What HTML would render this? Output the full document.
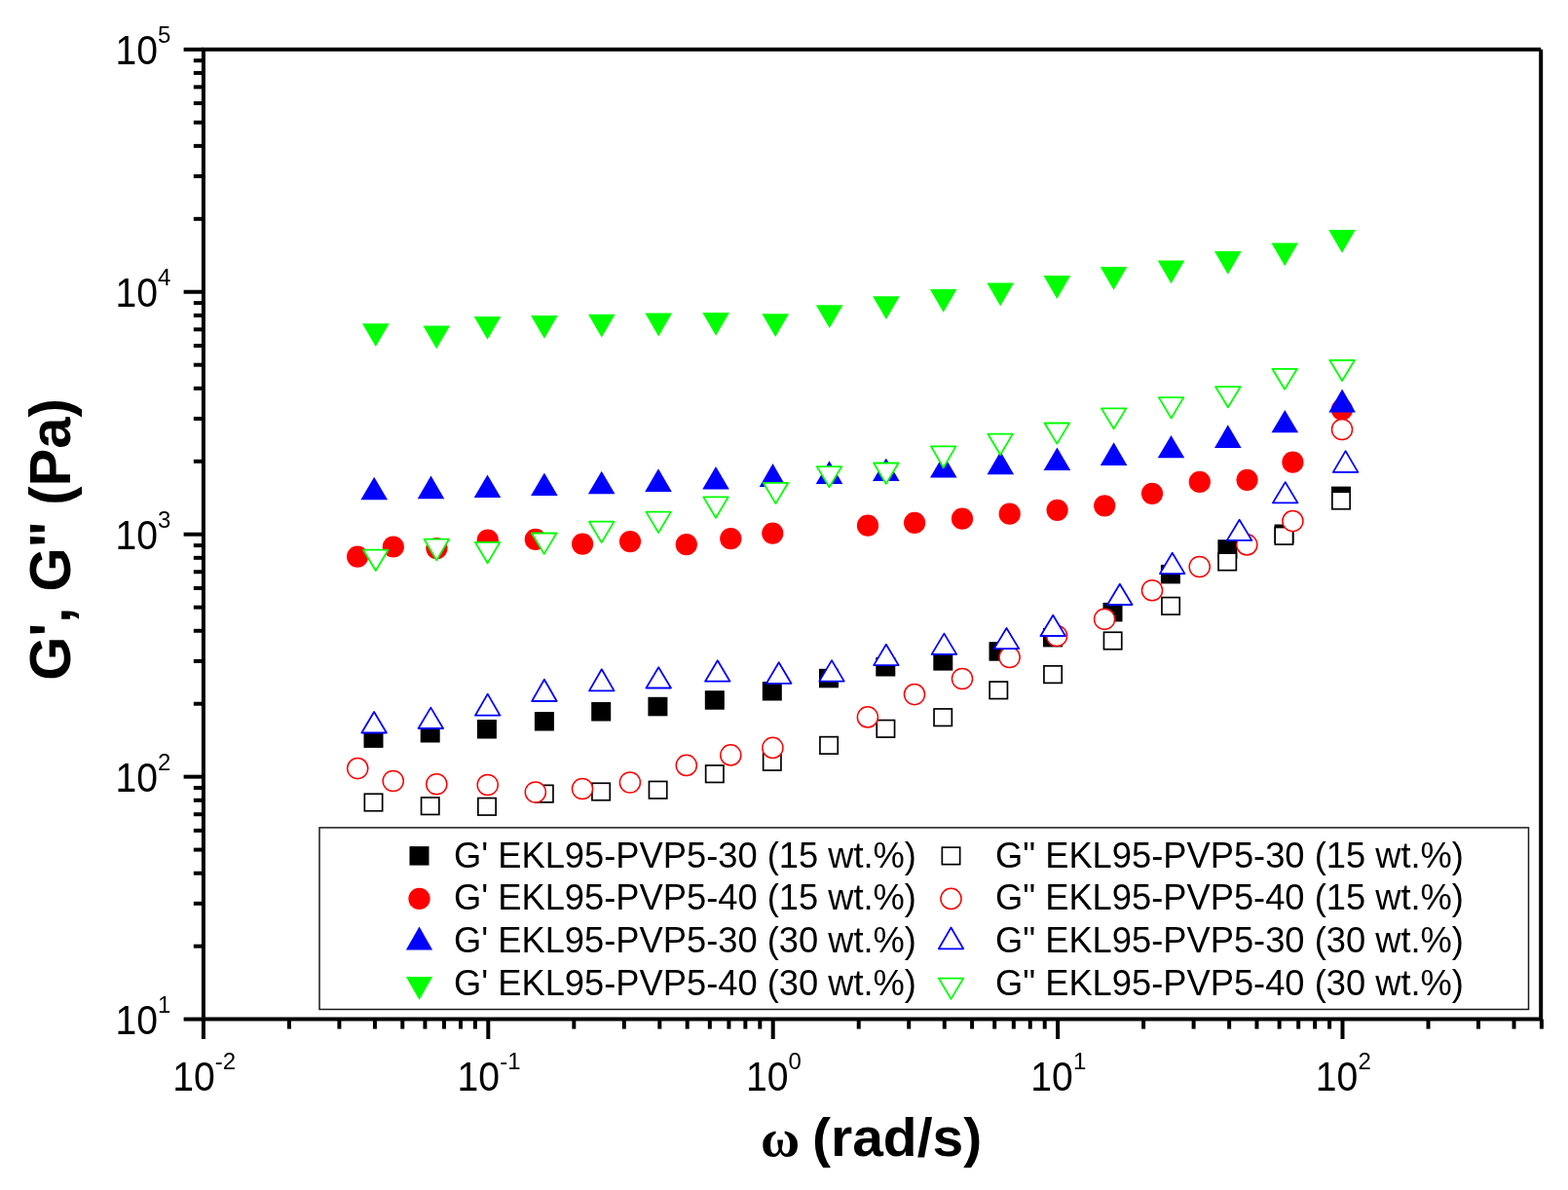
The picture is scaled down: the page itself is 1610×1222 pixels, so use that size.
<!DOCTYPE html><html><head><meta charset="utf-8"><style>html,body{margin:0;padding:0;background:#fff;}svg{display:block}text{font-family:"Liberation Sans",Arial,sans-serif}</style></head><body>
<svg width="1610" height="1222" viewBox="0 0 1610 1222">
<rect width="1610" height="1222" fill="#fff"/>
<g id="data">
<rect x="373.5" y="748.4" width="20" height="19.5" fill="#000000"/>
<rect x="431.7" y="743.0" width="20" height="19.5" fill="#000000"/>
<rect x="489.9" y="739.0" width="20" height="19.5" fill="#000000"/>
<rect x="548.9" y="731.0" width="20" height="19.5" fill="#000000"/>
<rect x="607.2" y="721.0" width="20" height="19.5" fill="#000000"/>
<rect x="665.4" y="715.8" width="20" height="19.5" fill="#000000"/>
<rect x="723.8" y="709.2" width="20" height="19.5" fill="#000000"/>
<rect x="782.8" y="700.0" width="20" height="19.5" fill="#000000"/>
<rect x="841.0" y="686.8" width="20" height="19.5" fill="#000000"/>
<rect x="899.3" y="675.0" width="20" height="19.5" fill="#000000"/>
<rect x="958.3" y="669.1" width="20" height="19.5" fill="#000000"/>
<rect x="1015.5" y="659.2" width="20" height="19.5" fill="#000000"/>
<rect x="1071.0" y="644.9" width="20" height="19.5" fill="#000000"/>
<rect x="1132.5" y="618.9" width="20" height="19.5" fill="#000000"/>
<rect x="1191.9" y="579.9" width="20" height="19.5" fill="#000000"/>
<rect x="1250.4" y="554.2" width="20" height="19.5" fill="#000000"/>
<rect x="1308.5" y="538.5" width="20" height="19.5" fill="#000000"/>
<rect x="1367.0" y="499.6" width="20" height="19.5" fill="#000000"/>
<circle cx="367.1" cy="571.6" r="11.1" fill="#ff0000"/>
<circle cx="403.8" cy="561.5" r="11.1" fill="#ff0000"/>
<circle cx="448.4" cy="563.1" r="11.1" fill="#ff0000"/>
<circle cx="500.8" cy="554.6" r="11.1" fill="#ff0000"/>
<circle cx="549.8" cy="553.9" r="11.1" fill="#ff0000"/>
<circle cx="598.1" cy="558.6" r="11.1" fill="#ff0000"/>
<circle cx="647.0" cy="556.1" r="11.1" fill="#ff0000"/>
<circle cx="704.8" cy="559.2" r="11.1" fill="#ff0000"/>
<circle cx="750.3" cy="553.2" r="11.1" fill="#ff0000"/>
<circle cx="793.3" cy="547.6" r="11.1" fill="#ff0000"/>
<circle cx="891.0" cy="539.7" r="11.1" fill="#ff0000"/>
<circle cx="939.1" cy="536.9" r="11.1" fill="#ff0000"/>
<circle cx="988.0" cy="532.7" r="11.1" fill="#ff0000"/>
<circle cx="1036.7" cy="527.7" r="11.1" fill="#ff0000"/>
<circle cx="1085.6" cy="523.8" r="11.1" fill="#ff0000"/>
<circle cx="1134.2" cy="519.3" r="11.1" fill="#ff0000"/>
<circle cx="1183.0" cy="506.9" r="11.1" fill="#ff0000"/>
<circle cx="1231.8" cy="494.9" r="11.1" fill="#ff0000"/>
<circle cx="1280.5" cy="492.8" r="11.1" fill="#ff0000"/>
<circle cx="1327.4" cy="474.7" r="11.1" fill="#ff0000"/>
<circle cx="1377.9" cy="420.6" r="11.1" fill="#ff0000"/>
<path d="M384.2 489.7L398.0 513.3L370.4 513.3Z" fill="#0000ff"/>
<path d="M442.5 488.5L456.3 512.2L428.7 512.2Z" fill="#0000ff"/>
<path d="M500.5 487.4L514.3 511.1L486.7 511.1Z" fill="#0000ff"/>
<path d="M558.9 485.5L572.7 509.1L545.1 509.1Z" fill="#0000ff"/>
<path d="M617.7 483.7L631.5 507.3L603.9 507.3Z" fill="#0000ff"/>
<path d="M676.0 481.3L689.8 505.1L662.2 505.1Z" fill="#0000ff"/>
<path d="M735.0 479.0L748.8 502.6L721.2 502.6Z" fill="#0000ff"/>
<path d="M793.5 475.9L807.3 500.0L779.7 500.0Z" fill="#0000ff"/>
<path d="M851.5 473.2L865.3 497.0L837.7 497.0Z" fill="#0000ff"/>
<path d="M909.8 470.4L923.6 494.0L896.0 494.0Z" fill="#0000ff"/>
<path d="M968.8 466.8L982.6 490.6L955.0 490.6Z" fill="#0000ff"/>
<path d="M1027.3 463.4L1041.1 487.2L1013.5 487.2Z" fill="#0000ff"/>
<path d="M1085.4 459.4L1099.2 483.1L1071.6 483.1Z" fill="#0000ff"/>
<path d="M1143.6 454.3L1157.4 478.1L1129.8 478.1Z" fill="#0000ff"/>
<path d="M1202.5 446.9L1216.3 470.3L1188.7 470.3Z" fill="#0000ff"/>
<path d="M1260.8 436.2L1274.6 460.0L1247.0 460.0Z" fill="#0000ff"/>
<path d="M1319.3 421.0L1333.1 444.3L1305.5 444.3Z" fill="#0000ff"/>
<path d="M1378.1 399.6L1391.9 423.4L1364.3 423.4Z" fill="#0000ff"/>
<path d="M372.0 332.2L399.6 332.2L385.8 356.0Z" fill="#00ff00"/>
<path d="M434.4 334.5L462.0 334.5L448.2 358.3Z" fill="#00ff00"/>
<path d="M486.7 324.9L514.3 324.9L500.5 348.7Z" fill="#00ff00"/>
<path d="M545.1 324.0L572.7 324.0L558.9 347.8Z" fill="#00ff00"/>
<path d="M604.0 322.7L631.6 322.7L617.8 346.5Z" fill="#00ff00"/>
<path d="M662.4 321.6L690.0 321.6L676.2 345.4Z" fill="#00ff00"/>
<path d="M721.3 321.0L748.9 321.0L735.1 344.8Z" fill="#00ff00"/>
<path d="M782.4 322.2L810.0 322.2L796.2 346.0Z" fill="#00ff00"/>
<path d="M837.9 313.3L865.5 313.3L851.7 337.1Z" fill="#00ff00"/>
<path d="M896.1 304.2L923.7 304.2L909.9 328.0Z" fill="#00ff00"/>
<path d="M954.9 296.9L982.5 296.9L968.7 320.7Z" fill="#00ff00"/>
<path d="M1013.4 290.5L1041.0 290.5L1027.2 314.3Z" fill="#00ff00"/>
<path d="M1071.5 283.1L1099.1 283.1L1085.3 306.9Z" fill="#00ff00"/>
<path d="M1129.7 273.9L1157.3 273.9L1143.5 297.7Z" fill="#00ff00"/>
<path d="M1188.7 267.4L1216.3 267.4L1202.5 291.2Z" fill="#00ff00"/>
<path d="M1247.0 257.9L1274.6 257.9L1260.8 281.7Z" fill="#00ff00"/>
<path d="M1305.4 249.4L1333.0 249.4L1319.2 273.2Z" fill="#00ff00"/>
<path d="M1364.2 235.9L1391.8 235.9L1378.0 259.7Z" fill="#00ff00"/>
<rect x="374.35" y="815.25" width="18.30" height="17.50" fill="#fff" stroke="#000000" stroke-width="1.7"/>
<rect x="432.55" y="818.95" width="18.30" height="17.50" fill="#fff" stroke="#000000" stroke-width="1.7"/>
<rect x="490.85" y="819.55" width="18.30" height="17.50" fill="#fff" stroke="#000000" stroke-width="1.7"/>
<rect x="549.65" y="806.35" width="18.30" height="17.50" fill="#fff" stroke="#000000" stroke-width="1.7"/>
<rect x="607.95" y="804.25" width="18.30" height="17.50" fill="#fff" stroke="#000000" stroke-width="1.7"/>
<rect x="666.45" y="802.45" width="18.30" height="17.50" fill="#fff" stroke="#000000" stroke-width="1.7"/>
<rect x="724.65" y="785.95" width="18.30" height="17.50" fill="#fff" stroke="#000000" stroke-width="1.7"/>
<rect x="783.65" y="773.55" width="18.30" height="17.50" fill="#fff" stroke="#000000" stroke-width="1.7"/>
<rect x="841.95" y="756.65" width="18.30" height="17.50" fill="#fff" stroke="#000000" stroke-width="1.7"/>
<rect x="900.25" y="739.55" width="18.30" height="17.50" fill="#fff" stroke="#000000" stroke-width="1.7"/>
<rect x="959.05" y="727.95" width="18.30" height="17.50" fill="#fff" stroke="#000000" stroke-width="1.7"/>
<rect x="1016.15" y="700.05" width="18.30" height="17.50" fill="#fff" stroke="#000000" stroke-width="1.7"/>
<rect x="1071.95" y="683.85" width="18.30" height="17.50" fill="#fff" stroke="#000000" stroke-width="1.7"/>
<rect x="1133.45" y="649.25" width="18.30" height="17.50" fill="#fff" stroke="#000000" stroke-width="1.7"/>
<rect x="1192.95" y="613.55" width="18.30" height="17.50" fill="#fff" stroke="#000000" stroke-width="1.7"/>
<rect x="1251.05" y="568.15" width="18.30" height="17.50" fill="#fff" stroke="#000000" stroke-width="1.7"/>
<rect x="1309.25" y="541.55" width="18.30" height="17.50" fill="#fff" stroke="#000000" stroke-width="1.7"/>
<rect x="1367.85" y="505.25" width="18.30" height="17.50" fill="#fff" stroke="#000000" stroke-width="1.7"/>
<circle cx="367.2" cy="789.1" r="10.55" fill="#fff" stroke="#ff0000" stroke-width="1.5"/>
<circle cx="403.7" cy="802.0" r="10.55" fill="#fff" stroke="#ff0000" stroke-width="1.5"/>
<circle cx="448.3" cy="805.2" r="10.55" fill="#fff" stroke="#ff0000" stroke-width="1.5"/>
<circle cx="500.7" cy="806.0" r="10.55" fill="#fff" stroke="#ff0000" stroke-width="1.5"/>
<circle cx="549.8" cy="813.5" r="10.55" fill="#fff" stroke="#ff0000" stroke-width="1.5"/>
<circle cx="598.0" cy="810.0" r="10.55" fill="#fff" stroke="#ff0000" stroke-width="1.5"/>
<circle cx="646.9" cy="803.5" r="10.55" fill="#fff" stroke="#ff0000" stroke-width="1.5"/>
<circle cx="704.8" cy="785.9" r="10.55" fill="#fff" stroke="#ff0000" stroke-width="1.5"/>
<circle cx="750.3" cy="775.4" r="10.55" fill="#fff" stroke="#ff0000" stroke-width="1.5"/>
<circle cx="793.4" cy="767.9" r="10.55" fill="#fff" stroke="#ff0000" stroke-width="1.5"/>
<circle cx="890.9" cy="736.4" r="10.55" fill="#fff" stroke="#ff0000" stroke-width="1.5"/>
<circle cx="939.0" cy="713.1" r="10.55" fill="#fff" stroke="#ff0000" stroke-width="1.5"/>
<circle cx="988.0" cy="697.0" r="10.55" fill="#fff" stroke="#ff0000" stroke-width="1.5"/>
<circle cx="1036.6" cy="675.0" r="10.55" fill="#fff" stroke="#ff0000" stroke-width="1.5"/>
<circle cx="1085.1" cy="653.0" r="10.55" fill="#fff" stroke="#ff0000" stroke-width="1.5"/>
<circle cx="1134.1" cy="635.8" r="10.55" fill="#fff" stroke="#ff0000" stroke-width="1.5"/>
<circle cx="1183.0" cy="606.3" r="10.55" fill="#fff" stroke="#ff0000" stroke-width="1.5"/>
<circle cx="1231.7" cy="582.0" r="10.55" fill="#fff" stroke="#ff0000" stroke-width="1.5"/>
<circle cx="1280.3" cy="559.4" r="10.55" fill="#fff" stroke="#ff0000" stroke-width="1.5"/>
<circle cx="1327.4" cy="535.1" r="10.55" fill="#fff" stroke="#ff0000" stroke-width="1.5"/>
<circle cx="1378.0" cy="441.0" r="10.55" fill="#fff" stroke="#ff0000" stroke-width="1.5"/>
<path d="M384.10 731.00L396.85 752.50L371.35 752.50Z" fill="#fff" stroke="#0000ff" stroke-width="1.8" stroke-linejoin="round"/>
<path d="M442.30 726.60L455.05 748.00L429.55 748.00Z" fill="#fff" stroke="#0000ff" stroke-width="1.8" stroke-linejoin="round"/>
<path d="M500.70 712.60L513.45 734.70L487.95 734.70Z" fill="#fff" stroke="#0000ff" stroke-width="1.8" stroke-linejoin="round"/>
<path d="M558.90 697.70L571.65 720.00L546.15 720.00Z" fill="#fff" stroke="#0000ff" stroke-width="1.8" stroke-linejoin="round"/>
<path d="M617.80 687.30L630.55 709.40L605.05 709.40Z" fill="#fff" stroke="#0000ff" stroke-width="1.8" stroke-linejoin="round"/>
<path d="M676.20 685.20L688.95 706.50L663.45 706.50Z" fill="#fff" stroke="#0000ff" stroke-width="1.8" stroke-linejoin="round"/>
<path d="M736.80 678.30L749.55 699.70L724.05 699.70Z" fill="#fff" stroke="#0000ff" stroke-width="1.8" stroke-linejoin="round"/>
<path d="M799.70 680.30L812.45 701.80L786.95 701.80Z" fill="#fff" stroke="#0000ff" stroke-width="1.8" stroke-linejoin="round"/>
<path d="M854.00 678.10L866.75 699.60L841.25 699.60Z" fill="#fff" stroke="#0000ff" stroke-width="1.8" stroke-linejoin="round"/>
<path d="M909.90 661.80L922.65 683.10L897.15 683.10Z" fill="#fff" stroke="#0000ff" stroke-width="1.8" stroke-linejoin="round"/>
<path d="M969.40 650.60L982.15 671.90L956.65 671.90Z" fill="#fff" stroke="#0000ff" stroke-width="1.8" stroke-linejoin="round"/>
<path d="M1033.50 645.00L1046.25 666.10L1020.75 666.10Z" fill="#fff" stroke="#0000ff" stroke-width="1.8" stroke-linejoin="round"/>
<path d="M1081.20 631.80L1093.95 653.00L1068.45 653.00Z" fill="#fff" stroke="#0000ff" stroke-width="1.8" stroke-linejoin="round"/>
<path d="M1149.80 599.70L1162.55 621.00L1137.05 621.00Z" fill="#fff" stroke="#0000ff" stroke-width="1.8" stroke-linejoin="round"/>
<path d="M1203.70 567.80L1216.45 589.10L1190.95 589.10Z" fill="#fff" stroke="#0000ff" stroke-width="1.8" stroke-linejoin="round"/>
<path d="M1272.60 533.70L1285.35 554.90L1259.85 554.90Z" fill="#fff" stroke="#0000ff" stroke-width="1.8" stroke-linejoin="round"/>
<path d="M1319.70 495.10L1332.45 516.40L1306.95 516.40Z" fill="#fff" stroke="#0000ff" stroke-width="1.8" stroke-linejoin="round"/>
<path d="M1381.60 463.10L1394.35 484.90L1368.85 484.90Z" fill="#fff" stroke="#0000ff" stroke-width="1.8" stroke-linejoin="round"/>
<path d="M373.05 564.70L398.55 564.70L385.80 586.00Z" fill="#fff" stroke="#00ff00" stroke-width="1.8" stroke-linejoin="round"/>
<path d="M435.55 553.70L461.05 553.70L448.30 575.40Z" fill="#fff" stroke="#00ff00" stroke-width="1.8" stroke-linejoin="round"/>
<path d="M487.85 556.80L513.35 556.80L500.60 578.20Z" fill="#fff" stroke="#00ff00" stroke-width="1.8" stroke-linejoin="round"/>
<path d="M545.95 547.50L571.45 547.50L558.70 568.90Z" fill="#fff" stroke="#00ff00" stroke-width="1.8" stroke-linejoin="round"/>
<path d="M604.95 535.70L630.45 535.70L617.70 557.10Z" fill="#fff" stroke="#00ff00" stroke-width="1.8" stroke-linejoin="round"/>
<path d="M663.35 525.60L688.85 525.60L676.10 547.00Z" fill="#fff" stroke="#00ff00" stroke-width="1.8" stroke-linejoin="round"/>
<path d="M722.25 510.40L747.75 510.40L735.00 531.80Z" fill="#fff" stroke="#00ff00" stroke-width="1.8" stroke-linejoin="round"/>
<path d="M783.75 495.80L809.25 495.80L796.50 517.10Z" fill="#fff" stroke="#00ff00" stroke-width="1.8" stroke-linejoin="round"/>
<path d="M838.75 479.10L864.25 479.10L851.50 500.30Z" fill="#fff" stroke="#00ff00" stroke-width="1.8" stroke-linejoin="round"/>
<path d="M897.05 475.50L922.55 475.50L909.80 496.90Z" fill="#fff" stroke="#00ff00" stroke-width="1.8" stroke-linejoin="round"/>
<path d="M955.95 458.40L981.45 458.40L968.70 480.20Z" fill="#fff" stroke="#00ff00" stroke-width="1.8" stroke-linejoin="round"/>
<path d="M1014.35 445.60L1039.85 445.60L1027.10 467.00Z" fill="#fff" stroke="#00ff00" stroke-width="1.8" stroke-linejoin="round"/>
<path d="M1072.55 434.50L1098.05 434.50L1085.30 455.60Z" fill="#fff" stroke="#00ff00" stroke-width="1.8" stroke-linejoin="round"/>
<path d="M1130.85 419.40L1156.35 419.40L1143.60 440.30Z" fill="#fff" stroke="#00ff00" stroke-width="1.8" stroke-linejoin="round"/>
<path d="M1189.85 408.10L1215.35 408.10L1202.60 429.50Z" fill="#fff" stroke="#00ff00" stroke-width="1.8" stroke-linejoin="round"/>
<path d="M1248.15 397.20L1273.65 397.20L1260.90 418.30Z" fill="#fff" stroke="#00ff00" stroke-width="1.8" stroke-linejoin="round"/>
<path d="M1306.35 378.80L1331.85 378.80L1319.10 399.80Z" fill="#fff" stroke="#00ff00" stroke-width="1.8" stroke-linejoin="round"/>
<path d="M1365.35 370.00L1390.85 370.00L1378.10 391.00Z" fill="#fff" stroke="#00ff00" stroke-width="1.8" stroke-linejoin="round"/>
</g>
<rect x="328.0" y="849.9" width="1241.5" height="186.60000000000002" fill="none" stroke="#1a1a1a" stroke-width="1.5"/>
<rect x="420.5" y="869.1" width="20" height="19.5" fill="#000000"/>
<circle cx="430.5" cy="922.9" r="11.1" fill="#ff0000"/>
<path d="M430.5 951.6L444.1 975.4L416.9 975.4Z" fill="#0000ff"/>
<path d="M416.9 1003.1L444.1 1003.1L430.5 1026.8Z" fill="#00ff00"/>
<rect x="967.35" y="870.15" width="18.30" height="17.50" fill="#fff" stroke="#000000" stroke-width="1.7"/>
<circle cx="976.5" cy="922.9" r="10.55" fill="#fff" stroke="#ff0000" stroke-width="1.5"/>
<path d="M976.50 952.50L989.15 974.30L963.85 974.30Z" fill="#fff" stroke="#0000ff" stroke-width="1.8" stroke-linejoin="round"/>
<path d="M963.85 1004.60L989.15 1004.60L976.50 1025.90Z" fill="#fff" stroke="#00ff00" stroke-width="1.8" stroke-linejoin="round"/>
<text x="466.0" y="890.5" font-size="36.3" fill="#000">G' EKL95-PVP5-30 (15 wt.%)</text>
<text x="1022.0" y="890.5" font-size="36.3" fill="#000">G" EKL95-PVP5-30 (15 wt.%)</text>
<text x="466.0" y="934.2" font-size="36.3" fill="#000">G' EKL95-PVP5-40 (15 wt.%)</text>
<text x="1022.0" y="934.2" font-size="36.3" fill="#000">G" EKL95-PVP5-40 (15 wt.%)</text>
<text x="466.0" y="978.0" font-size="36.3" fill="#000">G' EKL95-PVP5-30 (30 wt.%)</text>
<text x="1022.0" y="978.0" font-size="36.3" fill="#000">G" EKL95-PVP5-30 (30 wt.%)</text>
<text x="466.0" y="1021.8" font-size="36.3" fill="#000">G' EKL95-PVP5-40 (30 wt.%)</text>
<text x="1022.0" y="1021.8" font-size="36.3" fill="#000">G" EKL95-PVP5-40 (30 wt.%)</text>
<g stroke="#000" stroke-width="4.0" fill="none" stroke-linecap="butt">
<path d="M206.9 50.8H1582.2M1582.2 50.8V1048.6M208.9 48.8V1048.6M206.9 1046.6H1584.2"/>
<path d="M188.6 1046.60H208.9"/>
<path d="M198.8 971.66H208.9"/>
<path d="M198.8 927.82H208.9"/>
<path d="M198.8 896.72H208.9"/>
<path d="M198.8 872.59H208.9"/>
<path d="M198.8 852.88H208.9"/>
<path d="M198.8 836.21H208.9"/>
<path d="M198.8 821.78H208.9"/>
<path d="M198.8 809.04H208.9"/>
<path d="M188.6 797.65H208.9"/>
<path d="M198.8 722.71H208.9"/>
<path d="M198.8 678.87H208.9"/>
<path d="M198.8 647.77H208.9"/>
<path d="M198.8 623.64H208.9"/>
<path d="M198.8 603.93H208.9"/>
<path d="M198.8 587.26H208.9"/>
<path d="M198.8 572.83H208.9"/>
<path d="M198.8 560.09H208.9"/>
<path d="M188.6 548.70H208.9"/>
<path d="M198.8 473.76H208.9"/>
<path d="M198.8 429.92H208.9"/>
<path d="M198.8 398.82H208.9"/>
<path d="M198.8 374.69H208.9"/>
<path d="M198.8 354.98H208.9"/>
<path d="M198.8 338.31H208.9"/>
<path d="M198.8 323.88H208.9"/>
<path d="M198.8 311.14H208.9"/>
<path d="M188.6 299.75H208.9"/>
<path d="M198.8 224.81H208.9"/>
<path d="M198.8 180.97H208.9"/>
<path d="M198.8 149.87H208.9"/>
<path d="M198.8 125.74H208.9"/>
<path d="M198.8 106.03H208.9"/>
<path d="M198.8 89.36H208.9"/>
<path d="M198.8 74.93H208.9"/>
<path d="M198.8 62.19H208.9"/>
<path d="M188.6 50.80H208.9"/>
<path d="M208.90 1046.6V1067.0"/>
<path d="M296.92 1046.6V1056.6"/>
<path d="M348.41 1046.6V1056.6"/>
<path d="M384.94 1046.6V1056.6"/>
<path d="M413.28 1046.6V1056.6"/>
<path d="M436.43 1046.6V1056.6"/>
<path d="M456.01 1046.6V1056.6"/>
<path d="M472.96 1046.6V1056.6"/>
<path d="M487.92 1046.6V1056.6"/>
<path d="M501.30 1046.6V1067.0"/>
<path d="M589.32 1046.6V1056.6"/>
<path d="M640.81 1046.6V1056.6"/>
<path d="M677.34 1046.6V1056.6"/>
<path d="M705.68 1046.6V1056.6"/>
<path d="M728.83 1046.6V1056.6"/>
<path d="M748.41 1046.6V1056.6"/>
<path d="M765.36 1046.6V1056.6"/>
<path d="M780.32 1046.6V1056.6"/>
<path d="M793.70 1046.6V1067.0"/>
<path d="M881.72 1046.6V1056.6"/>
<path d="M933.21 1046.6V1056.6"/>
<path d="M969.74 1046.6V1056.6"/>
<path d="M998.08 1046.6V1056.6"/>
<path d="M1021.23 1046.6V1056.6"/>
<path d="M1040.81 1046.6V1056.6"/>
<path d="M1057.76 1046.6V1056.6"/>
<path d="M1072.72 1046.6V1056.6"/>
<path d="M1086.10 1046.6V1067.0"/>
<path d="M1174.12 1046.6V1056.6"/>
<path d="M1225.61 1046.6V1056.6"/>
<path d="M1262.14 1046.6V1056.6"/>
<path d="M1290.48 1046.6V1056.6"/>
<path d="M1313.63 1046.6V1056.6"/>
<path d="M1333.21 1046.6V1056.6"/>
<path d="M1350.16 1046.6V1056.6"/>
<path d="M1365.12 1046.6V1056.6"/>
<path d="M1378.50 1046.6V1067.0"/>
<path d="M1466.52 1046.6V1056.6"/>
<path d="M1518.01 1046.6V1056.6"/>
<path d="M1554.54 1046.6V1056.6"/>
<path d="M1582.88 1046.6V1056.6"/>
</g>
<text transform="translate(118.5 1061.7) scale(0.91 1)" font-size="43">10</text>
<text x="161.9" y="1039.7" font-size="24">1</text>
<text transform="translate(118.5 812.7) scale(0.91 1)" font-size="43">10</text>
<text x="161.9" y="790.7" font-size="24">2</text>
<text transform="translate(118.5 563.8) scale(0.91 1)" font-size="43">10</text>
<text x="161.9" y="541.8" font-size="24">3</text>
<text transform="translate(118.5 314.9) scale(0.91 1)" font-size="43">10</text>
<text x="161.9" y="292.9" font-size="24">4</text>
<text transform="translate(118.5 65.9) scale(0.91 1)" font-size="43">10</text>
<text x="161.9" y="43.9" font-size="24">5</text>
<text transform="translate(177.14 1119.7) scale(0.91 1)" font-size="43">10</text>
<text x="220.79" y="1097.7" font-size="24">-2</text>
<text transform="translate(469.54 1119.7) scale(0.91 1)" font-size="43">10</text>
<text x="513.19" y="1097.7" font-size="24">-1</text>
<text transform="translate(765.93 1119.7) scale(0.91 1)" font-size="43">10</text>
<text x="809.58" y="1097.7" font-size="24">0</text>
<text transform="translate(1058.33 1119.7) scale(0.91 1)" font-size="43">10</text>
<text x="1101.98" y="1097.7" font-size="24">1</text>
<text transform="translate(1350.73 1119.7) scale(0.91 1)" font-size="43">10</text>
<text x="1394.38" y="1097.7" font-size="24">2</text>
<text transform="translate(72.1 554) rotate(-90)" font-size="60" font-weight="bold" text-anchor="middle" textLength="289.44" lengthAdjust="spacingAndGlyphs">G', G" (Pa)</text>
<text x="781" y="1187" font-size="55" font-weight="bold" style="font-family:Liberation Serif,serif">ω</text>
<text x="834" y="1187" font-size="55" font-weight="bold" textLength="174.2" lengthAdjust="spacingAndGlyphs">(rad/s)</text>
</svg></body></html>
